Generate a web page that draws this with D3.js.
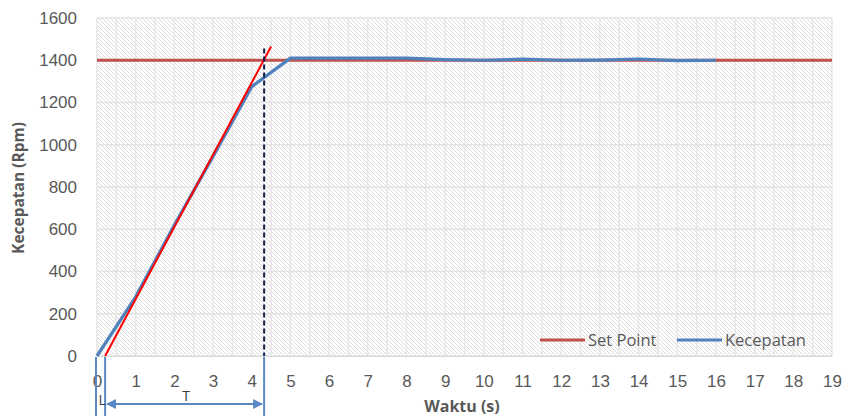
<!DOCTYPE html>
<html><head><meta charset="utf-8">
<script src="https://cdnjs.cloudflare.com/ajax/libs/d3/7.8.5/d3.min.js"></script>
<style>
html,body{margin:0;padding:0;background:#fff;}
svg{display:block;font-family:"Open Sans","Liberation Sans",sans-serif;}
</style></head>
<body>
<svg id="chart" width="843" height="416"></svg>
<script>
// ---- data ----
const timeSec   = [0,1,2,3,4,5,6,7,8,9,10,11,12,13,14,15,16];
const kecepatan = [0,280,620,945,1275,1410,1410,1410,1410,1403,1400,1405,1400,1401,1406,1398,1400];
const setPointX = [0,19];
const setPointY = [1400,1400];
const tangentX  = [0.21,4.5];
const tangentY  = [0,1465];
const dashedX   = 4.32;
const lStart = 0, lEnd = 0.21, tEnd = 4.32;
const xTicks = d3.range(0,20,1);
const yTicks = d3.range(0,1601,200);
const seriesNames = ["Set Point","Kecepatan"];

// ---- layout ----
const svg = d3.select("#chart");
const pLeft = 97, pRight = 832, pTop = 18, pBottom = 356;
const x = d3.scaleLinear().domain([0,19]).range([pLeft,pRight]);
const y = d3.scaleLinear().domain([0,1600]).range([pBottom,pTop]);

const defs = svg.append("defs");
const pat = defs.append("pattern").attr("id","hatch").attr("patternUnits","userSpaceOnUse")
  .attr("width",4).attr("height",4);
pat.append("rect").attr("width",4).attr("height",4).attr("fill","#ffffff");
pat.append("path").attr("d","M-1,-1 L5,5 M-1,3 L1,5 M3,-1 L5,1")
  .attr("stroke","#dcdcdc").attr("stroke-width",1);

// plot background
svg.append("rect").attr("x",pLeft).attr("y",pTop).attr("width",pRight-pLeft).attr("height",pBottom-pTop)
  .attr("fill","url(#hatch)");

// gridlines
const grid = svg.append("g");
grid.selectAll(".vg").data(d3.range(0,19.01,0.5)).join("line")
  .attr("x1",d=>x(d)).attr("x2",d=>x(d)).attr("y1",pTop).attr("y2",pBottom)
  .attr("stroke","#e6e6e6").attr("stroke-width",1.5);
grid.selectAll(".hg").data(yTicks).join("line")
  .attr("x1",pLeft).attr("x2",pRight).attr("y1",d=>y(d)).attr("y2",d=>y(d))
  .attr("stroke","#e3e3e3").attr("stroke-width",1.5);

// axes
const yAxis = svg.append("g").attr("transform",`translate(${pLeft},0)`)
  .call(d3.axisLeft(y).tickValues(yTicks).tickFormat(d3.format("d")).tickSize(0).tickPadding(20));
yAxis.select(".domain").remove();
yAxis.selectAll("text").attr("fill","#595959").style("font-size","17px");

const xAxis = svg.append("g").attr("transform",`translate(0,${pBottom})`)
  .call(d3.axisBottom(x).tickValues(xTicks).tickSize(0).tickPadding(19));
xAxis.select(".domain").attr("stroke","#d9d9d9");
xAxis.selectAll("text").attr("fill","#595959").style("font-size","17px");

// axis titles
svg.append("text").attr("x",462).attr("y",412).attr("text-anchor","middle")
  .attr("font-weight","bold").attr("fill","#595959").style("font-size","16px").text("Waktu (s)");
svg.append("text").attr("transform","translate(24,188) rotate(-90)").attr("text-anchor","middle")
  .attr("font-weight","bold").attr("fill","#595959").style("font-size","15.5px").text("Kecepatan (Rpm)");

// lines
const line = d3.line().x(d=>x(d[0])).y(d=>y(d[1]));
svg.append("path").datum(setPointX.map((v,i)=>[v,setPointY[i]]))
  .attr("d",line).attr("fill","none").attr("stroke","#C0504D").attr("stroke-width",3);
svg.append("path").datum(timeSec.map((v,i)=>[v,kecepatan[i]]))
  .attr("d",line).attr("fill","none").attr("stroke","#4F81BD").attr("stroke-width",3.2)
  .attr("stroke-linejoin","round");
svg.append("path").datum(tangentX.map((v,i)=>[v,tangentY[i]]))
  .attr("d",line).attr("fill","none").attr("stroke","#FF0000").attr("stroke-width",2);
svg.append("line").attr("x1",x(dashedX)).attr("x2",x(dashedX)).attr("y1",y(1465)+2).attr("y2",pBottom)
  .attr("stroke","#0F1F4F").attr("stroke-width",2).attr("stroke-dasharray","5,3");

// legend
const lg = svg.append("g");
const legItems = [{n:seriesNames[0],c:"#C0504D",x:540},{n:seriesNames[1],c:"#4F81BD",x:677}];
legItems.forEach(it=>{
  lg.append("line").attr("x1",it.x).attr("x2",it.x+45).attr("y1",340).attr("y2",340)
    .attr("stroke",it.c).attr("stroke-width",3);
  lg.append("text").attr("x",it.x+48).attr("y",346).attr("fill","#595959")
    .style("font-size","16.5px").text(it.n);
});

// annotations L and T
const annColor = "#5B87C5";
defs.append("marker").attr("id","ah").attr("viewBox","0 0 10 10").attr("refX",9).attr("refY",5)
  .attr("markerWidth",5).attr("markerHeight",5).attr("orient","auto-start-reverse")
  .append("path").attr("d","M0,0 L10,5 L0,10 z").attr("fill",annColor);
[x(lStart)-1, x(lEnd), x(tEnd)].forEach(px=>{
  svg.append("line").attr("x1",px).attr("x2",px).attr("y1",357).attr("y2",416)
    .attr("stroke",annColor).attr("stroke-width",2);
});
svg.append("line").attr("x1",x(lEnd)+2).attr("x2",x(tEnd)-2).attr("y1",404).attr("y2",404)
  .attr("stroke",annColor).attr("stroke-width",2)
  .attr("marker-start","url(#ah)").attr("marker-end","url(#ah)");
svg.append("text").attr("x",(x(lStart)+x(lEnd))/2+1).attr("y",405).attr("text-anchor","middle")
  .attr("fill","#3a3a3a").style("font-size","14px").text("L");
svg.append("text").attr("x",186).attr("y",401).attr("text-anchor","middle")
  .attr("fill","#3a3a3a").style("font-size","14px").text("T");
</script>
</body></html>
